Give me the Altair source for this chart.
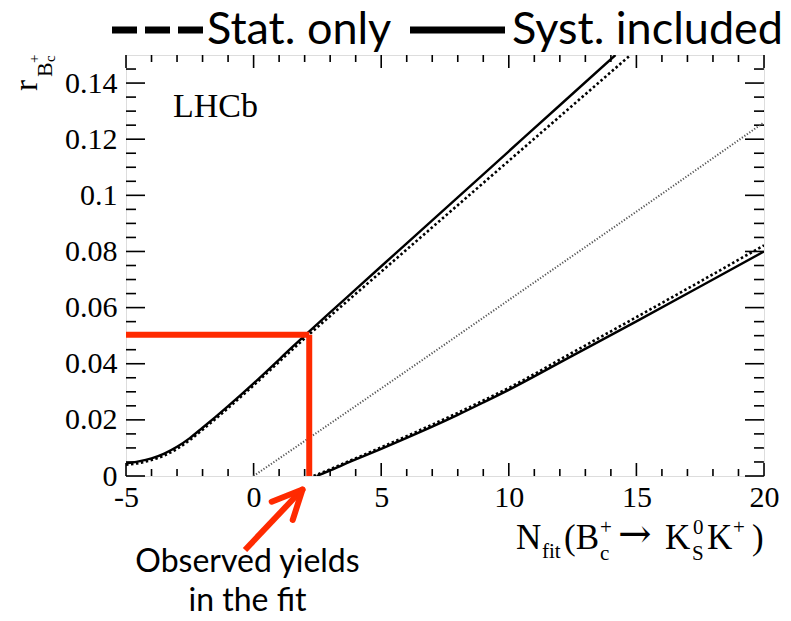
import altair as alt
import pandas as pd

# ---------------- data ----------------
syst_up_x = [-5, -4.5, -4, -3.5, -3, -2.5, -2, -1.5, -1, -0.5, 0, 0.5, 1, 1.5, 2, 3, 4, 6, 8, 10, 12, 14.18]
syst_up_y = [0.0045, 0.0052, 0.0063, 0.0080, 0.0104, 0.0135, 0.0172, 0.0210, 0.0249, 0.0289, 0.0330, 0.0372,
             0.0415, 0.0458, 0.0500, 0.0583, 0.0665, 0.0829, 0.0993, 0.1157, 0.1321, 0.1500]
stat_up_x = [-5, -4.5, -4, -3.5, -3, -2.5, -2, -1.5, -1, -0.5, 0, 0.5, 1, 1.5, 2, 3, 4, 6, 8, 10, 12, 14.77]
stat_up_y = [0.0040, 0.0046, 0.0057, 0.0073, 0.0097, 0.0128, 0.0165, 0.0203, 0.0242, 0.0282, 0.0323, 0.0365,
             0.0407, 0.0449, 0.0490, 0.0570, 0.0649, 0.0807, 0.0965, 0.1123, 0.1281, 0.1500]
central_x = [0, 5, 10, 15, 20]
central_y = [0.0, 0.0312, 0.0627, 0.0942, 0.1260]
syst_lo_x = [2.47, 3, 3.5, 4, 5, 6, 7, 8, 9, 10, 12.5, 15, 17.5, 20]
syst_lo_y = [0.0, 0.0020, 0.0040, 0.0059, 0.0097, 0.0136, 0.0176, 0.0218, 0.0262, 0.0307, 0.0429, 0.0551,
             0.0675, 0.0800]
stat_lo_x = [2.35, 3, 3.5, 4, 5, 6, 7, 8, 9, 10, 12.5, 15, 17.5, 20]
stat_lo_y = [0.0, 0.0024, 0.0044, 0.0063, 0.0102, 0.0142, 0.0183, 0.0225, 0.0269, 0.0314, 0.0440, 0.0566,
             0.0693, 0.0822]

obs_yield = [2.18]
obs_ratio = [0.0503]

x_major = [-5, 0, 5, 10, 15, 20]
x_minor = [-4, -3, -2, -1, 1, 2, 3, 4, 6, 7, 8, 9, 11, 12, 13, 14, 16, 17, 18, 19]
y_major = [0, 0.02, 0.04, 0.06, 0.08, 0.10, 0.12, 0.14]
y_minor = [0.005, 0.01, 0.015, 0.025, 0.03, 0.035, 0.045, 0.05, 0.055, 0.065, 0.07, 0.075,
           0.085, 0.09, 0.095, 0.105, 0.11, 0.115, 0.125, 0.13, 0.135, 0.145]

annotation_lines = ["Observed yields", "in the fit"]

W, H = 638, 421
SERIF = "Liberation Serif"
SANS = "Lato"
RED = "#FF2A00"

xs = alt.Scale(domain=[-5, 20], nice=False, zero=False)
ys = alt.Scale(domain=[0, 0.15], nice=False, zero=False)

XAX = alt.Axis(values=x_major, labelExpr="datum.value + ''", ticks=False, domain=False, grid=False,
               labelFont=SERIF, labelFontSize=30, labelColor="black", labelPadding=6,
               labelFlush=False, title=None)
YAX = alt.Axis(values=y_major, labelExpr="datum.value + ''", ticks=False, domain=False, grid=False,
               labelFont=SERIF, labelFontSize=30, labelColor="black", labelPadding=9,
               labelFlush=False, title=None)


def X(f):
    return alt.X(f, scale=xs, axis=XAX, title=None)


def Y(f):
    return alt.Y(f, scale=ys, axis=YAX, title=None)


one = pd.DataFrame({"a": [0]})


def line(xv, yv, **kw):
    df = pd.DataFrame({"x": xv, "y": yv})
    return alt.Chart(df).mark_line(interpolate="monotone", clip=True, **kw).encode(
        x=X("x:Q"), y=Y("y:Q"))


def vticks(vals, length, top):
    df = pd.DataFrame({"v": vals})
    if top:
        enc = dict(y=alt.value(0), y2=alt.value(length))
    else:
        enc = dict(y=alt.value(H), y2=alt.value(H - length))
    return alt.Chart(df).mark_rule(color="black", strokeWidth=1.6).encode(x=X("v:Q"), **enc)


def hticks(vals, length, right):
    df = pd.DataFrame({"v": vals})
    if right:
        enc = dict(x=alt.value(W), x2=alt.value(W - length))
    else:
        enc = dict(x=alt.value(0), x2=alt.value(length))
    return alt.Chart(df).mark_rule(color="black", strokeWidth=1.6).encode(y=Y("v:Q"), **enc)


ticks = [vticks(x_major, 13, False), vticks(x_minor, 7, False),
         vticks(x_major, 13, True), vticks(x_minor, 7, True),
         hticks(y_major, 19, False), hticks(y_minor, 10, False),
         hticks(y_major, 19, True), hticks(y_minor, 10, True)]

curves = [
    line(central_x, central_y, color="#555555", strokeWidth=2, strokeDash=[1.2, 1.8]),
    line(stat_up_x, stat_up_y, color="black", strokeWidth=2.6, strokeDash=[2.5, 2.5]),
    line(syst_up_x, syst_up_y, color="black", strokeWidth=2.4),
    line(stat_lo_x, stat_lo_y, color="black", strokeWidth=2.6, strokeDash=[2.5, 2.5]),
    line(syst_lo_x, syst_lo_y, color="black", strokeWidth=2.4),
]

obs = pd.DataFrame({"x0": [-5], "x": obs_yield, "y0": [0.0], "y": obs_ratio})
red_h = alt.Chart(obs).mark_rule(color=RED, strokeWidth=6).encode(
    x=X("x0:Q"), x2="x:Q", y=Y("y:Q"))
red_v = alt.Chart(obs).mark_rule(color=RED, strokeWidth=6).encode(
    x=X("x:Q"), y=Y("y0:Q"), y2=alt.Y2("y:Q"))


def txt(s, x, y, size, font=SERIF, align="left", angle=0, baseline="alphabetic"):
    kw = dict(align=align, baseline=baseline, font=font, fontSize=size, color="black")
    if angle:
        kw["angle"] = angle
    return alt.Chart(one).mark_text(**kw).encode(
        x=alt.value(x), y=alt.value(y), text=alt.value(s))


def prule(x1, y1, x2, y2, width, color="black", dash=None, cap="butt"):
    kw = dict(color=color, strokeWidth=width, strokeCap=cap)
    if dash:
        kw["strokeDash"] = dash
    return alt.Chart(one).mark_rule(**kw).encode(
        x=alt.value(x1), y=alt.value(y1), x2=alt.value(x2), y2=alt.value(y2))


annot_text = alt.Chart(one).mark_text(
    text=annotation_lines, align="center", baseline="alphabetic", font=SANS, fontSize=32,
    lineHeight=39, color="black").encode(x=alt.value(121.5), y=alt.value(517))

annots = [
    txt("LHCb", 47, 61.7, 34),
    # y title r_{B_c^+}
    txt("r", -89, 36, 33, angle=270),
    txt("B", -74, 22, 22, angle=270),
    txt("+", -87, 8, 15, angle=270),
    txt("c", -71, 7, 15, angle=270),
    # x title N_fit(B_c^+ -> K_S^0 K^+)
    txt("N", 390, 494, 35),
    txt("fit", 416, 503, 21),
    txt("(B", 438, 494, 35),
    txt("+", 474, 479, 21),
    txt("c", 474, 505, 21),
    txt("\u2192", 492, 492, 40, font="DejaVu Serif"),
    txt("K", 539, 494, 35),
    txt("0", 567, 479, 21),
    txt("S", 566, 505, 21),
    txt("K", 581, 494, 35),
    txt("+", 607, 479, 21),
    txt(")", 626, 494, 35),
    # legend
    prule(-14, -25, 79, -25, 7, dash=[25, 8]),
    txt("Stat. only", 81, -11, 45, font=SANS),
    prule(284, -25, 379, -25, 7),
    txt("Syst. included", 386, -11, 45, font=SANS),
    # arrow annotation
    prule(119, 495, 175.7, 435, 6, color=RED),
    prule(145.7, 446.7, 176.5, 434.5, 6, color=RED, cap="round"),
    prule(166.7, 465, 176.5, 434.5, 6, color=RED, cap="round"),
    annot_text,
]

chart = alt.layer(*ticks, *curves, red_h, red_v, *annots).properties(
    width=W, height=H,
    autosize=alt.AutoSizeParams(type="none"),
    padding={"left": 126, "top": 55, "right": 27, "bottom": 145},
).configure_view(stroke="black", strokeWidth=2).configure(background="white")

chart.save("out.html", embed_options={"renderer": "svg", "actions": False})
